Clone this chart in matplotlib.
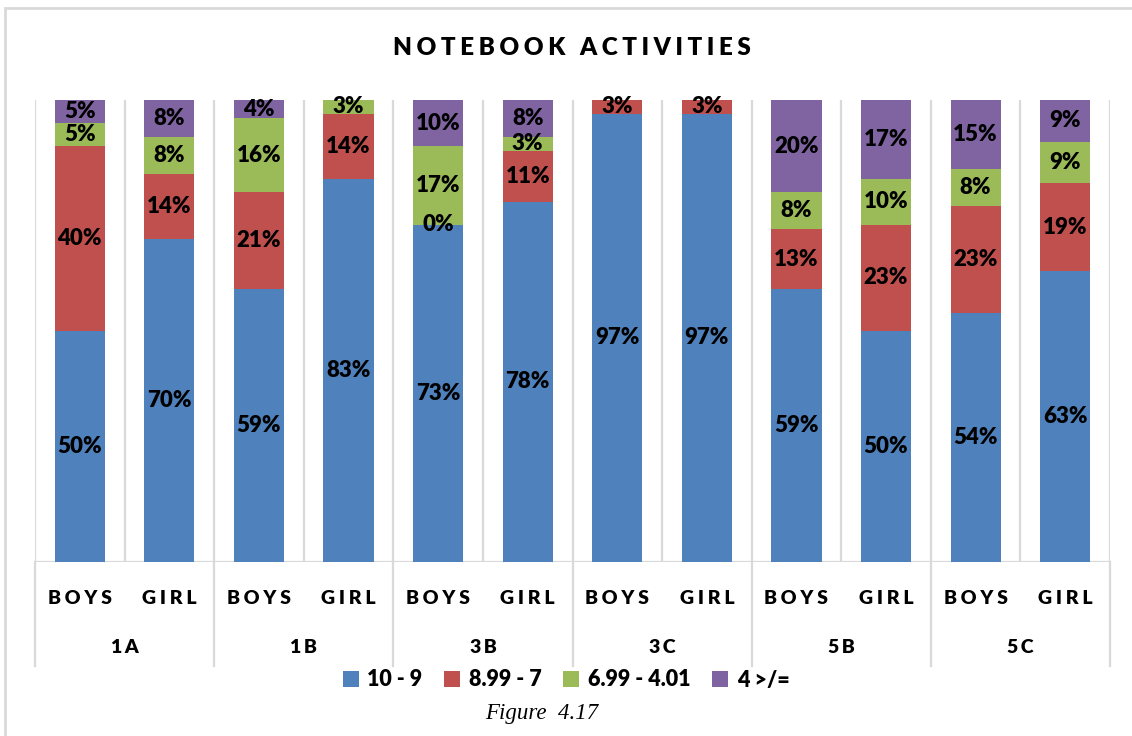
import numpy as np
import matplotlib.pyplot as plt
from matplotlib.patches import Rectangle
from matplotlib.transforms import blended_transform_factory

# data (percent), nan = empty cell (no label)
groups = ["1A", "1B", "3B", "3C", "5B", "5C"]
genders = ["BOYS", "GIRL"]
series = ["10 - 9", "8.99 - 7", "6.99 - 4.01", "4 >/="]
colors = ["#4F81BD", "#C0504D", "#9BBB59", "#8064A2"]

nan = np.nan
s_10_9 = [50, 70, 59, 83, 73, 78, 97, 97, 59, 50, 54, 63]
s_899_7 = [40, 14, 21, 14, 0, 11, 3, 3, 13, 23, 23, 19]
s_699_401 = [5, 8, 16, 3, 17, 3, nan, nan, 8, 10, 8, 9]
s_4 = [5, 8, 4, nan, 10, 8, nan, nan, 20, 17, 15, 9]

FONT = ["Lato", "DejaVu Sans"]
W = "heavy"
GRID = "#d9d9d9"


def spaced(s, sep="\u2009"):
    return sep.join(s)


data = np.array([s_10_9, s_899_7, s_699_401, s_4], dtype=float)
vals = np.nan_to_num(data)
totals = vals.sum(axis=0)
frac = vals / totals

fig = plt.figure(figsize=(11.32, 7.36), dpi=100)
ax = fig.add_axes([35 / 1132, 1 - 562 / 736, 1075 / 1132, 462 / 736])

x = np.arange(len(groups) * len(genders))
bottom = np.zeros(len(x))
for i, (name, col) in enumerate(zip(series, colors)):
    ax.bar(x, frac[i], bottom=bottom, width=0.56, color=col, label=name, zorder=2)
    for j in range(len(x)):
        if not np.isnan(data[i, j]):
            ax.text(x[j], bottom[j] + frac[i, j] / 2, f"{data[i, j]:.0f}%",
                    ha="center", va="center", fontsize=16, fontweight=W,
                    family=FONT, zorder=3)
    bottom += frac[i]

ax.set_xlim(-0.5, len(x) - 0.5)
ax.set_ylim(0, 1)
ax.set_xticks([])
ax.set_yticks([])
for sp in ax.spines.values():
    sp.set_visible(False)

# category grid lines
for b in np.arange(-0.5, len(x), 1.0):
    ax.axvline(b, color=GRID, lw=1.6, zorder=1)
ax.axhline(0, color=GRID, lw=1.6, zorder=1)

# multi-level axis labels
tr = blended_transform_factory(ax.transData, ax.transAxes)
for b in np.arange(-0.5, len(x), 2.0):
    ax.plot([b, b], [0, -0.225], color=GRID, lw=1.6, transform=tr, clip_on=False)
for j in range(len(x)):
    ax.text(x[j], -0.078, spaced(genders[j % 2], "\u2009\u200a"), transform=tr,
            ha="center", va="center", fontsize=14, fontweight=W, family=FONT)
for g, name in enumerate(groups):
    ax.text(2 * g + 0.5, -0.186, spaced(name), transform=tr,
            ha="center", va="center", fontsize=14, fontweight=W, family=FONT)

fig.text(572 / 1132, 1 - 48 / 736, spaced("NOTEBOOK ACTIVITIES", "\u2009\u200a"),
         ha="center", va="center", fontsize=17.5, fontweight=W, family=FONT)

leg = fig.legend(loc="center", bbox_to_anchor=(566 / 1132, 1 - 680 / 736), ncol=4,
                 frameon=False, handlelength=0.75, handleheight=0.75, handletextpad=0.4,
                 columnspacing=1.0, prop={"family": FONT, "weight": W, "size": 15.5})

fig.text(542 / 1132, 1 - 714 / 736, "Figure  4.17", ha="center", va="center",
         fontsize=16.5, style="italic", family="Liberation Serif")

# outer chart frame (top and left edges visible)
fig.patches.append(Rectangle((5 / 1132, -0.1), 1.2, 1 - 8 / 736 + 0.1,
                             transform=fig.transFigure, fill=False,
                             edgecolor=GRID, lw=2))

fig.savefig("out.png", dpi=100)
